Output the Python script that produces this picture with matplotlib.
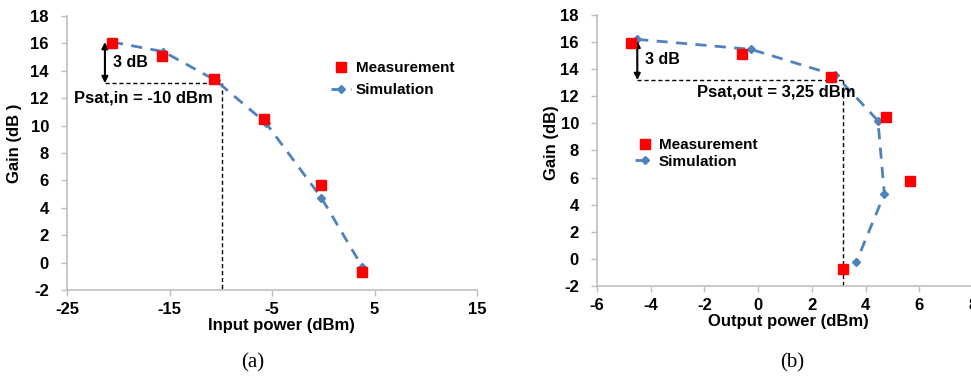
import matplotlib
matplotlib.use("Agg")
import matplotlib.pyplot as plt

plt.rcParams["axes.unicode_minus"] = False

# ---- data (a) ----
pin_meas = [-20.6, -15.7, -10.7, -5.8, -0.2, 3.8]
gain_meas_a = [16.0, 15.1, 13.4, 10.45, 5.7, -0.72]
pin_sim = [-20.6, -15.6, -10.5, -5.6, -0.2, 3.8]
gain_sim_a = [16.1, 15.4, 13.3, 10.2, 4.75, -0.3]

# ---- data (b) ----
pout_meas = [-4.72, -0.6, 2.7, 4.75, 5.65, 3.17]
gain_meas_b = [15.96, 15.1, 13.4, 10.5, 5.75, -0.72]
pout_sim = [-4.5, -0.27, 2.88, 4.46, 4.7, 3.65]
gain_sim_b = [16.2, 15.47, 13.55, 10.2, 4.79, -0.25]

xticks_a = [-25, -15, -5, 5, 15]
xticks_b = [-6, -4, -2, 0, 2, 4, 6, 8]
yticks = [-2, 0, 2, 4, 6, 8, 10, 12, 14, 16, 18]

W, H = 971, 381
fig = plt.figure(figsize=(W / 100, H / 100), dpi=100)

SANS = "Liberation Sans"
RED = "#FF0000"
BLUE = "#4F81BD"
SPINE = "#BFBFBF"
TFS = 12


def px_axes(x0, x1, ytop, ybot):
    return [x0 / W, 1 - ybot / H, (x1 - x0) / W, (ybot - ytop) / H]


def style(ax, xticks, xlim):
    ax.set_xlim(*xlim)
    ax.set_ylim(-2, 18)
    ax.set_xticks(xticks)
    ax.set_yticks(yticks)
    for s in ("top", "right"):
        ax.spines[s].set_visible(False)
    for s in ("left", "bottom"):
        ax.spines[s].set_color(SPINE)
        ax.spines[s].set_linewidth(1.2)
    ax.tick_params(axis="both", colors=SPINE, length=4, width=1,
                   labelcolor="black", labelsize=TFS)
    ax.tick_params(axis="x", pad=5)
    ax.tick_params(axis="y", pad=9)
    for lab in ax.get_xticklabels() + ax.get_yticklabels():
        lab.set_fontfamily(SANS)
        lab.set_fontweight("bold")


# ---------------- (a) ----------------
axa = fig.add_axes(px_axes(67, 477, 16, 290))
style(axa, xticks_a, (-25, 15))
axa.plot(pin_sim, gain_sim_a, color=BLUE, linestyle=(0, (4, 3)), linewidth=2,
         marker="D", markersize=4, label="Simulation", zorder=3)
axa.plot(pin_meas, gain_meas_a, linestyle="none", marker="s", markersize=7.5,
         color=RED, label="Measurement", zorder=4)
axa.set_xlabel("Input power (dBm)", fontfamily=SANS, fontweight="bold", fontsize=TFS)
axa.set_ylabel("Gain (dB )", fontfamily=SANS, fontweight="bold", fontsize=TFS)
axa.xaxis.set_label_coords(0.522, -0.102)
axa.yaxis.set_label_coords(-0.11, 0.536)

axa.annotate("", xy=(-21.3, 16.1), xytext=(-21.3, 13.1),
             arrowprops=dict(arrowstyle="<|-|>", color="black", lw=1.5,
                             mutation_scale=9, shrinkA=0, shrinkB=0))
axa.plot([-21.3, -9.9], [13.1, 13.1], color="black", lw=1, linestyle=(0, (3, 2)))
axa.plot([-9.9, -9.9], [13.1, -2], color="black", lw=1, linestyle=(0, (3, 2)))
axa.text(-20.5, 14.6, "3 dB", fontfamily=SANS, fontweight="bold", fontsize=11.5,
         va="center", ha="left")
axa.text(-24.3, 12.0, "Psat,in = -10 dBm", fontfamily=SANS, fontweight="bold",
         fontsize=12, va="center", ha="left")

h, l = axa.get_legend_handles_labels()
axa.legend(h[::-1], l[::-1], loc="upper left", bbox_to_anchor=(0.645, 0.835),
           frameon=False, borderpad=0, borderaxespad=0, handlelength=1.3,
           handletextpad=0.3, labelspacing=0.5,
           prop=dict(family=SANS, weight="bold", size=11))

# ---------------- (b) ----------------
axb = fig.add_axes(px_axes(597, 973, 15, 286))
style(axb, xticks_b, (-6, 8))
axb.plot(pout_sim, gain_sim_b, color=BLUE, linestyle=(0, (4, 3)), linewidth=2,
         marker="D", markersize=4, label="Simulation", zorder=3)
axb.plot(pout_meas, gain_meas_b, linestyle="none", marker="s", markersize=7.5,
         color=RED, label="Measurement", zorder=4)
axb.set_xlabel("Output power (dBm)", fontfamily=SANS, fontweight="bold", fontsize=TFS)
axb.set_ylabel("Gain (dB)", fontfamily=SANS, fontweight="bold", fontsize=TFS)
axb.xaxis.set_label_coords(0.508, -0.103)
axb.yaxis.set_label_coords(-0.102, 0.528)

axb.annotate("", xy=(-4.5, 16.1), xytext=(-4.5, 13.2),
             arrowprops=dict(arrowstyle="<|-|>", color="black", lw=1.5,
                             mutation_scale=9, shrinkA=0, shrinkB=0))
axb.plot([-4.5, 3.15], [13.2, 13.2], color="black", lw=1, linestyle=(0, (3, 2)))
axb.plot([3.15, 3.15], [13.2, -2], color="black", lw=1, linestyle=(0, (3, 2)))
axb.text(-4.22, 14.7, "3 dB", fontfamily=SANS, fontweight="bold", fontsize=11.5,
         va="center", ha="left")
axb.text(-2.29, 12.3, "Psat,out = 3,25 dBm", fontfamily=SANS, fontweight="bold",
         fontsize=12, va="center", ha="left")

h, l = axb.get_legend_handles_labels()
axb.legend(h[::-1], l[::-1], loc="upper left", bbox_to_anchor=(0.1, 0.545),
           frameon=False, borderpad=0, borderaxespad=0, handlelength=1.3,
           handletextpad=0.3, labelspacing=0.15,
           prop=dict(family=SANS, weight="bold", size=11))

fig.text(253 / W, 1 - 363 / H, "(a)", fontfamily="Liberation Serif", fontsize=15,
         ha="center", va="center")
fig.text(792 / W, 1 - 363 / H, "(b)", fontfamily="Liberation Serif", fontsize=15,
         ha="center", va="center")

fig.savefig("out.png", dpi=100)
